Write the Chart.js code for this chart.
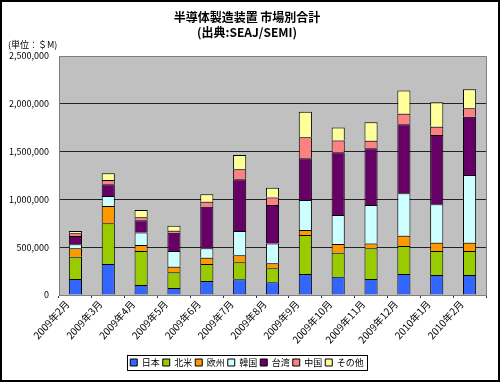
<!DOCTYPE html>
<html>
<head>
<meta charset="utf-8">
<script src="https://cdn.jsdelivr.net/npm/chart.js@4/dist/chart.umd.min.js"></script>
<style>
  html, body { margin: 0; padding: 0; background: #fff; }
  #wrap { width: 500px; height: 382px; }
</style>
</head>
<body>
<div id="wrap"><canvas id="marketChart" width="500" height="382"></canvas></div>
<script>
const months = ['2009年2月', '2009年3月', '2009年4月', '2009年5月', '2009年6月', '2009年7月', '2009年8月',
  '2009年9月', '2009年10月', '2009年11月', '2009年12月', '2010年1月', '2010年2月'];
const japan = [167000, 324000, 105000, 73000, 146000, 164000, 133000, 220000, 192000, 167000, 220000, 209000, 209000];
const northAmerica = [233000, 426000, 356000, 164000, 178000, 178000, 146000, 408000, 251000, 321000, 293000, 251000, 251000];
const europe = [88000, 181000, 63000, 59000, 66000, 73000, 52000, 52000, 91000, 52000, 108000, 87000, 87000];
const korea = [42000, 105000, 129000, 164000, 98000, 254000, 209000, 314000, 303000, 401000, 444000, 402000, 708000];
const taiwan = [87000, 122000, 129000, 192000, 435000, 541000, 401000, 436000, 656000, 593000, 722000, 725000, 610000];
const china = [28000, 45000, 31000, 21000, 52000, 105000, 80000, 220000, 122000, 80000, 108000, 87000, 88000];
const other = [24000, 70000, 77000, 52000, 80000, 150000, 101000, 268000, 136000, 192000, 244000, 255000, 199000];
const yTicks = [0, 500000, 1000000, 1500000, 2000000, 2500000];

const FONT = "'Noto Sans CJK JP', 'DejaVu Sans', sans-serif";

// fundo branco, borda externa e area do grafico cinza
const framePlugin = {
  id: 'frame',
  beforeDraw(chart) {
    const { ctx, chartArea: a, width, height } = chart;
    ctx.save();
    ctx.fillStyle = '#fff';
    ctx.fillRect(0, 0, width, height);
    ctx.fillStyle = '#c0c0c0';
    ctx.fillRect(a.left, a.top, a.right - a.left, a.bottom - a.top);
    ctx.restore();
  },
  afterDraw(chart) {
    const { ctx, chartArea: a, width, height } = chart;
    ctx.save();
    ctx.strokeStyle = '#808080';
    ctx.lineWidth = 1;
    ctx.beginPath();
    ctx.moveTo(a.left, a.top + 0.5);
    ctx.lineTo(a.right + 0.5, a.top + 0.5);
    ctx.lineTo(a.right + 0.5, a.bottom);
    ctx.stroke();
    // borda da legenda
    const boxes = chart.legend.legendHitBoxes;
    if (boxes && boxes.length) {
      const l = Math.min(...boxes.map(b => b.left)) - 3;
      const r = Math.max(...boxes.map(b => b.left + b.width)) + 3;
      const t = Math.min(...boxes.map(b => b.top)) - 3;
      const btm = Math.max(...boxes.map(b => b.top + b.height)) + 3;
      ctx.strokeStyle = '#000';
      ctx.strokeRect(Math.round(l) + 0.5, Math.round(t) + 0.5, Math.round(r - l), Math.round(btm - t));
    }
    ctx.strokeStyle = '#000';
    ctx.lineWidth = 2;
    ctx.strokeRect(1, 1, width - 2, height - 2);
    ctx.restore();
  }
};

function makeSet(label, data, color) {
  return {
    label: label,
    data: data,
    backgroundColor: color,
    borderColor: '#000',
    borderWidth: 1,
    barPercentage: 0.4,
    categoryPercentage: 1
  };
}

new Chart(document.getElementById('marketChart'), {
  type: 'bar',
  data: {
    labels: months,
    datasets: [
      makeSet('日本', japan, '#3366ff'),
      makeSet('北米', northAmerica, '#99cc00'),
      makeSet('欧州', europe, '#ff9900'),
      makeSet('韓国', korea, '#ccffff'),
      makeSet('台湾', taiwan, '#660066'),
      makeSet('中国', china, '#ff8080'),
      makeSet('その他', other, '#ffff99')
    ]
  },
  options: {
    responsive: false,
    animation: false,
    layout: { padding: { left: 8, right: 14, top: 10, bottom: 5 } },
    plugins: {
      title: {
        display: true,
        text: ['半導体製造装置 市場別合計', '(出典:SEAJ/SEMI)'],
        color: '#000',
        font: { family: FONT, size: 12, weight: 'bold', lineHeight: 1.25 },
        padding: { top: 0, bottom: 0 }
      },
      subtitle: {
        display: true,
        text: '(単位：＄M)',
        align: 'start',
        color: '#000',
        font: { family: FONT, size: 9, lineHeight: 1.0 },
        padding: { top: 0, bottom: 7 }
      },
      legend: {
        position: 'bottom',
        labels: {
          color: '#000',
          font: { family: FONT, size: 9 },
          boxWidth: 7,
          boxHeight: 7,
          padding: 3
        }
      },
      tooltip: { enabled: false }
    },
    scales: {
      x: {
        stacked: true,
        afterFit(scale) { scale.height = 60; },
        grid: { offset: true, drawOnChartArea: false, tickLength: 3, color: '#333' },
        border: { color: '#808080' },
        ticks: {
          autoSkip: false,
          minRotation: 48,
          maxRotation: 48,
          padding: 0,
          labelOffset: -8,
          color: '#000',
          font: { family: FONT, size: 10 }
        }
      },
      y: {
        stacked: true,
        min: 0,
        max: 2500000,
        afterFit(scale) { scale.width = 51; },
        afterBuildTicks(scale) { scale.ticks = yTicks.map(v => ({ value: v })); },
        grid: {
          drawTicks: false,
          color: ctx => (ctx.index === 0 ? 'rgba(0,0,0,0)' : ctx.index === yTicks.length - 1 ? '#808080' : '#222')
        },
        border: { color: '#808080' },
        ticks: {
          padding: 10,
          color: '#000',
          font: { family: FONT, size: 9 },
          callback: value => value.toLocaleString('en-US')
        }
      }
    }
  },
  plugins: [framePlugin]
});
</script>
</body>
</html>
